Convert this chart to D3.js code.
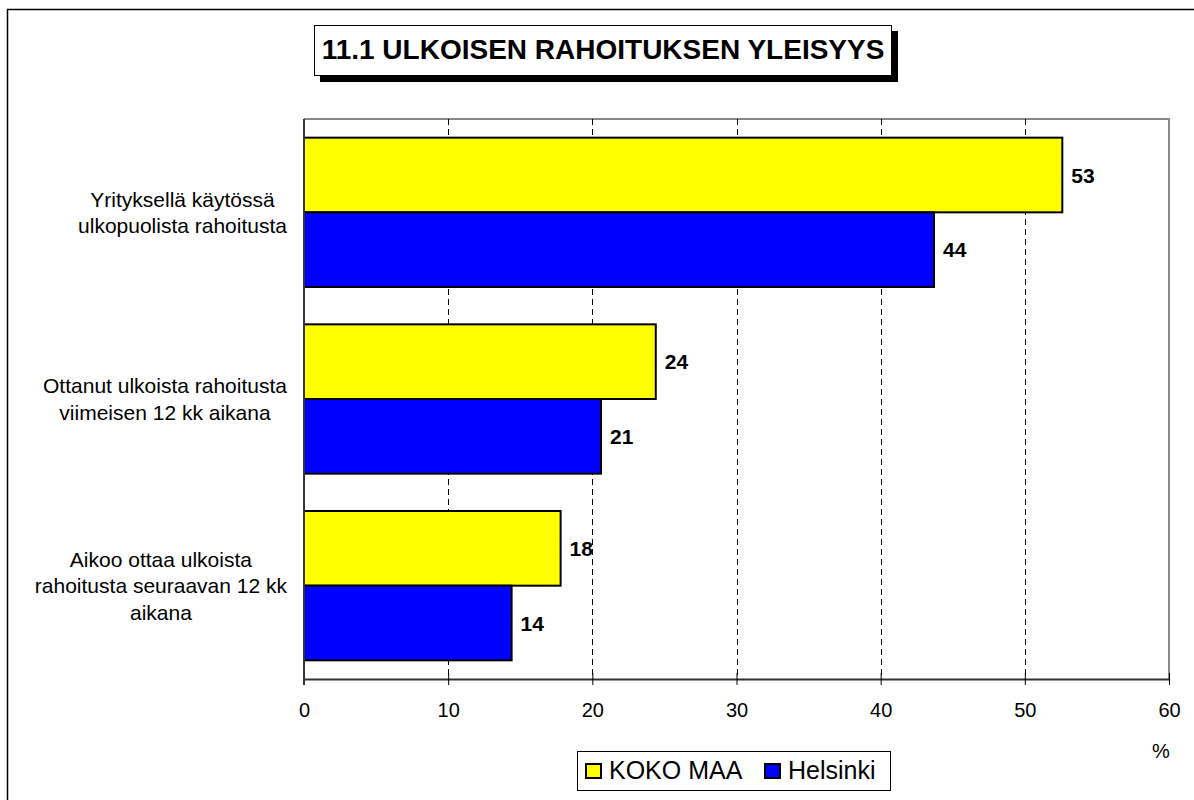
<!DOCTYPE html>
<html>
<head>
<meta charset="utf-8">
<script src="https://cdn.jsdelivr.net/npm/d3@7"></script>
<style>
  body { margin: 0; background: #fff; }
  svg { display: block; font-family: "Liberation Sans", Arial, sans-serif; }
</style>
</head>
<body>
<div id="chart"></div>
<script>
// chart data
const categories = [
  "Yrityksellä käytössä\nulkopuolista rahoitusta",
  "Ottanut ulkoista rahoitusta\nviimeisen 12 kk aikana",
  "Aikoo ottaa ulkoista\nrahoitusta seuraavan 12 kk\naikana"
];
const seriesNames = ["KOKO MAA", "Helsinki"];
const kokoMaa = [52.6, 24.4, 17.8];
const helsinki = [43.7, 20.6, 14.4];
const xTicks = [0, 10, 20, 30, 40, 50, 60];
const colors = ["#ffff00", "#0000ff"];

const width = 1194;
const height = 800;
const plot = { left: 304, right: 1169, top: 119, bottom: 679 };

const svg = d3.select('#chart').append('svg')
  .attr('width', width)
  .attr('height', height);

// outer frame
svg.append('rect')
  .attr('x', 7.5).attr('y', 9.5)
  .attr('width', 1200).attr('height', 800)
  .attr('fill', 'none')
  .attr('stroke', '#000')
  .attr('stroke-width', 1.5);

// title box with shadow
svg.append('rect')
  .attr('x', 320).attr('y', 31)
  .attr('width', 578).attr('height', 51)
  .attr('fill', '#000');
svg.append('rect')
  .attr('x', 314.5).attr('y', 25.5)
  .attr('width', 577).attr('height', 50)
  .attr('fill', '#fff')
  .attr('stroke', '#000')
  .attr('stroke-width', 1);
svg.append('text')
  .attr('x', 603).attr('y', 59)
  .attr('text-anchor', 'middle')
  .attr('font-size', 28)
  .attr('font-weight', 'bold')
  .text('11.1 ULKOISEN RAHOITUKSEN YLEISYYS');

// scales
const x = d3.scaleLinear().domain([0, 60]).range([plot.left, plot.right]);
const y0 = d3.scaleBand().domain(categories)
  .range([plot.top, plot.bottom])
  .paddingInner(0.2)
  .paddingOuter(0.1);
const y1 = d3.scaleBand().domain(seriesNames).range([0, y0.bandwidth()]);

// plot border (grey top and right)
svg.append('path')
  .attr('d', `M${plot.left},${plot.top}H${plot.right}V${plot.bottom}`)
  .attr('fill', 'none')
  .attr('stroke', '#888')
  .attr('stroke-width', 2);

// dashed gridlines
svg.append('g')
  .selectAll('line')
  .data(xTicks.filter(d => d > 0 && d < 60))
  .enter().append('line')
  .attr('x1', d => Math.round(x(d)) + 0.5)
  .attr('x2', d => Math.round(x(d)) + 0.5)
  .attr('y1', plot.top)
  .attr('y2', plot.bottom)
  .attr('stroke', '#000')
  .attr('stroke-width', 1)
  .attr('stroke-dasharray', '6,4');

// bars
const rows = categories.map((c, i) => ({ cat: c, values: [kokoMaa[i], helsinki[i]] }));
const group = svg.append('g').selectAll('g')
  .data(rows)
  .enter().append('g')
  .attr('transform', d => 'translate(0,' + y0(d.cat) + ')');

group.selectAll('rect')
  .data(d => d.values.map((v, j) => ({ name: seriesNames[j], value: v, idx: j })))
  .enter().append('rect')
  .attr('x', x(0))
  .attr('y', d => y1(d.name))
  .attr('width', d => x(d.value) - x(0))
  .attr('height', y1.bandwidth())
  .attr('fill', d => colors[d.idx])
  .attr('stroke', '#000')
  .attr('stroke-width', 2);

// value labels
group.selectAll('text')
  .data(d => d.values.map((v, j) => ({ name: seriesNames[j], value: v })))
  .enter().append('text')
  .attr('x', d => x(d.value) + 9)
  .attr('y', d => y1(d.name) + y1.bandwidth() / 2)
  .attr('dy', '0.36em')
  .attr('font-size', 21)
  .attr('font-weight', 'bold')
  .text(d => d3.format('.0f')(d.value));

// x axis
const xAxis = svg.append('g')
  .attr('transform', 'translate(0,' + plot.bottom + ')')
  .call(d3.axisBottom(x).tickValues(xTicks).tickSizeInner(6).tickSizeOuter(0).tickPadding(18));
xAxis.select('.domain').attr('stroke', '#333').attr('stroke-width', 2);
xAxis.selectAll('.tick line').attr('y1', -6).attr('stroke', '#000');
xAxis.selectAll('.tick text')
  .attr('font-size', 20)
  .attr('font-family', '"Liberation Sans", Arial, sans-serif')
  .attr('fill', '#000');

// left axis line
svg.append('line')
  .attr('x1', plot.left).attr('x2', plot.left)
  .attr('y1', plot.top).attr('y2', plot.bottom + 6)
  .attr('stroke', '#333')
  .attr('stroke-width', 2);

// category labels, widest line ends at x = 287
categories.forEach(c => {
  const lines = c.split('\n');
  const lineH = 26.5;
  const cy = y0(c) + y0.bandwidth() / 2;
  const t = svg.append('text')
    .attr('font-size', 21)
    .attr('text-anchor', 'middle');
  lines.forEach((l, k) => {
    t.append('tspan')
      .attr('x', 0)
      .attr('y', cy + (k - (lines.length - 1) / 2) * lineH)
      .attr('dy', '0.36em')
      .text(l);
  });
  const maxW = d3.max(t.selectAll('tspan').nodes(), n => n.getComputedTextLength());
  t.selectAll('tspan').attr('x', 287 - maxW / 2);
});

// percent sign
svg.append('text')
  .attr('x', 1161).attr('y', 758)
  .attr('text-anchor', 'middle')
  .attr('font-size', 20)
  .text('%');

// legend
const legend = svg.append('g');
legend.append('rect')
  .attr('x', 577.5).attr('y', 751.5)
  .attr('width', 313).attr('height', 39)
  .attr('fill', '#fff')
  .attr('stroke', '#000')
  .attr('stroke-width', 1);
const legendX = [586, 765];
seriesNames.forEach((name, i) => {
  legend.append('rect')
    .attr('x', legendX[i]).attr('y', 764)
    .attr('width', 15).attr('height', 14)
    .attr('fill', colors[i])
    .attr('stroke', '#000')
    .attr('stroke-width', 2);
  legend.append('text')
    .attr('x', legendX[i] + 23).attr('y', 779)
    .attr('font-size', 25)
    .text(name);
});
</script>
</body>
</html>
